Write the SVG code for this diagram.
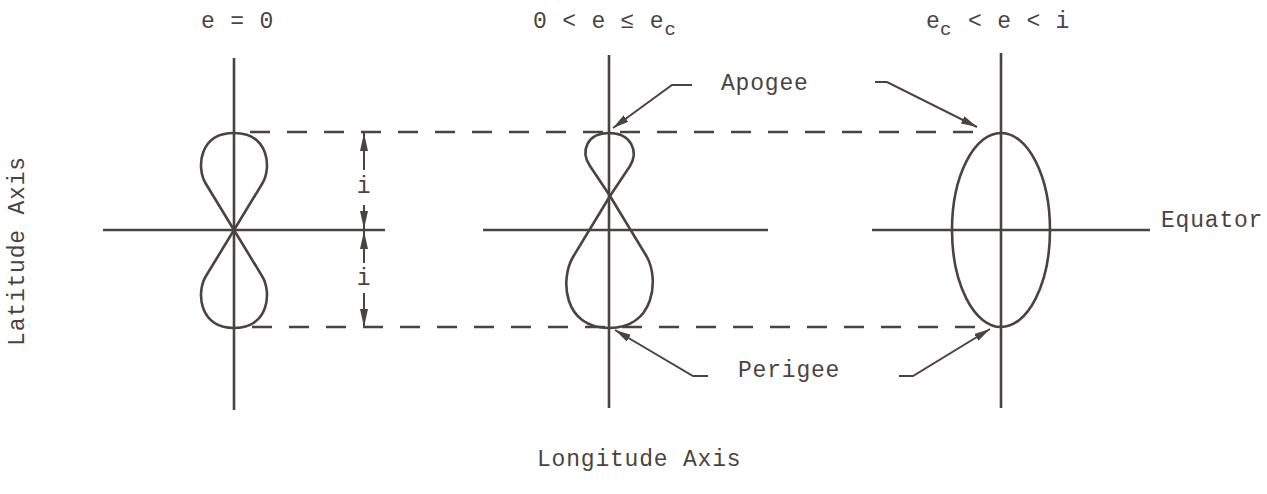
<svg xmlns="http://www.w3.org/2000/svg" width="1267" height="494" viewBox="0 0 1267 494">
<style>
.ax{stroke:#4b4341;stroke-width:2.6;fill:none;stroke-linecap:butt}
.crv{stroke:#4b4341;stroke-width:2.6;fill:none;stroke-linejoin:round}
.dash{stroke:#4b4341;stroke-width:2.6;fill:none;stroke-dasharray:20 17}
.lead{stroke:#4b4341;stroke-width:2;fill:none}
.dim{stroke:#4b4341;stroke-width:2;fill:none}
text{font-family:"Liberation Mono","DejaVu Sans Mono",monospace;font-size:23px;letter-spacing:0.8px;fill:#4b4341}
.sub{font-size:19px}
</style>
<defs>
<marker id="ah" viewBox="0 0 16 8" refX="16" refY="4" markerWidth="16" markerHeight="8" markerUnits="userSpaceOnUse" orient="auto">
<path d="M0,0 L16,4 L0,8 Z" fill="#4b4341"/>
</marker>
<marker id="dh" viewBox="0 0 18 8" refX="18" refY="4" markerWidth="18" markerHeight="8" markerUnits="userSpaceOnUse" orient="auto">
<path d="M0,0 L18,4 L0,8 Z" fill="#4b4341"/>
</marker>
</defs>
<rect width="1267" height="494" fill="#ffffff"/>

<g id="titles">
<text x="201" y="28">e = 0</text>
<text y="28"><tspan x="533">0 &lt; e ≤ e</tspan><tspan class="sub" dy="7">c</tspan></text>
<text y="28"><tspan x="926">e</tspan><tspan class="sub" x="940" dy="7">c</tspan><tspan x="968" dy="-7">&lt; e &lt; i</tspan></text>
</g>

<g id="axis-labels">
<text x="0" y="0" transform="translate(24,251) rotate(-90)" text-anchor="middle">Latitude Axis</text>
<text x="537" y="466">Longitude Axis</text>
<text x="1161" y="227">Equator</text>
</g>

<g id="fig-e0">
<line class="ax" x1="234" y1="58" x2="234" y2="410"/>
<line class="ax" x1="103" y1="230" x2="385" y2="230"/>
<path class="crv" d="M234,230 L206,184 C196,168 199,133 234,133 C269,133 272,168 262,184 Z"/>
<path class="crv" d="M234,230 L206,276 C196,292 199,328 234,328 C269,328 272,292 262,276 Z"/>
</g>

<g id="fig-mid">
<line class="ax" x1="609" y1="55" x2="609" y2="408"/>
<line class="ax" x1="483" y1="230" x2="768" y2="230"/>
<path class="crv" d="M610,196 L590,166 C580,151 587,133 609,133 C631,133 639,151 630,166 Z"/>
<path class="crv" d="M610,196 L573,257 C560,279 563,328 609,328 C655,328 659,279 647,257 Z"/>
</g>

<g id="fig-ellipse">
<line class="ax" x1="1001" y1="53" x2="1001" y2="408"/>
<line class="ax" x1="872" y1="230" x2="1150" y2="230"/>
<ellipse class="crv" cx="1001" cy="230" rx="49" ry="97"/>
</g>

<g id="apogee">
<text x="721" y="90">Apogee</text>
</g>
<g id="perigee">
<text x="738" y="377">Perigee</text>
</g>

<g id="connectors">
<line class="dash" x1="250" y1="132" x2="978" y2="132"/>
<line class="dash" x1="252" y1="327" x2="988" y2="327"/>
<path class="lead" d="M692,85 L672,85 L613,128" marker-end="url(#ah)"/>
<path class="lead" d="M875,82 L887,82 L977,127" marker-end="url(#ah)"/>
<path class="lead" d="M708,376 L693,376 L615,330" marker-end="url(#ah)"/>
<path class="lead" d="M899,376 L913,376 L990,329" marker-end="url(#ah)"/>
<line class="dim" x1="364" y1="170" x2="364" y2="133" marker-end="url(#dh)"/>
<line class="dim" x1="364" y1="205" x2="364" y2="229" marker-end="url(#dh)"/>
<line class="dim" x1="364" y1="263" x2="364" y2="231" marker-end="url(#dh)"/>
<line class="dim" x1="364" y1="293" x2="364" y2="327" marker-end="url(#dh)"/>
<text x="364" y="193" text-anchor="middle">i</text>
<text x="364" y="285" text-anchor="middle">i</text>
</g>
</svg>
